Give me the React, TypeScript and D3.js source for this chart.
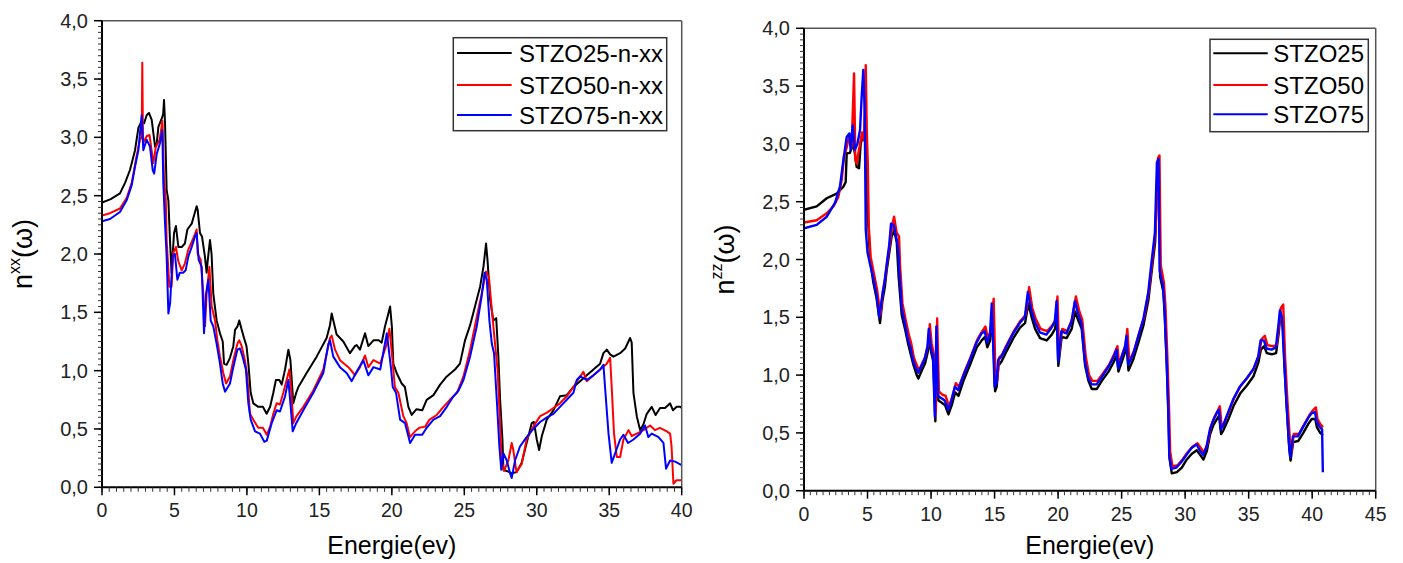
import React from "react";
import * as d3 from "d3";

type Pt = [number, number];

// ---- Left panel data (n^xx) ----
const leftBlack: Pt[] = [[0,2.44],[0.6,2.47],[1.24,2.52],[1.59,2.61],[1.93,2.72],[2.28,2.89],[2.51,3.08],[2.74,3.14],[2.9,3.12],[3.08,3.19],[3.24,3.21],[3.43,3.15],[3.54,3.04],[3.66,2.92],[3.78,2.95],[3.89,3.09],[4.12,3.16],[4.22,3.2],[4.28,3.32],[4.35,3.12],[4.46,2.55],[4.58,2.46],[4.69,2.12],[4.8,1.84],[4.97,2.18],[5.1,2.24],[5.27,2.06],[5.5,2.06],[5.72,2.09],[5.89,2.21],[6.19,2.26],[6.53,2.41],[6.6,2.38],[6.76,2.18],[6.9,2.15],[7.1,1.98],[7.22,1.84],[7.3,1.95],[7.45,2.12],[7.56,2.0],[7.68,1.66],[7.91,1.43],[8.14,1.32],[8.33,1.25],[8.42,1.06],[8.6,1.05],[8.83,1.11],[9.06,1.21],[9.18,1.35],[9.35,1.38],[9.47,1.43],[9.64,1.35],[9.8,1.28],[9.97,1.21],[10.1,1.06],[10.26,0.81],[10.44,0.72],[10.78,0.69],[11.1,0.69],[11.36,0.63],[11.6,0.69],[11.82,0.81],[12.0,0.92],[12.24,0.92],[12.4,0.88],[12.63,1.01],[12.86,1.18],[13.0,1.09],[13.2,0.72],[13.4,0.81],[13.55,0.86],[14.12,0.98],[14.81,1.12],[15.5,1.28],[15.73,1.39],[15.85,1.49],[15.96,1.43],[16.19,1.31],[16.65,1.25],[17.11,1.15],[17.45,1.21],[17.57,1.22],[17.8,1.18],[18.15,1.32],[18.38,1.21],[18.73,1.26],[19.1,1.26],[19.3,1.24],[19.53,1.38],[19.76,1.49],[19.88,1.55],[20.0,1.38],[20.1,1.06],[20.33,0.98],[20.68,0.89],[20.9,0.86],[21.14,0.69],[21.37,0.62],[21.7,0.67],[22.1,0.66],[22.4,0.75],[22.87,0.79],[23.33,0.88],[23.79,0.95],[24.36,1.01],[24.7,1.06],[25.05,1.26],[25.4,1.39],[25.86,1.61],[26.09,1.72],[26.32,1.89],[26.5,2.09],[26.6,1.95],[26.78,1.61],[27.0,1.43],[27.2,1.45],[27.35,1.12],[27.47,0.75],[27.63,0.41],[27.7,0.15],[27.93,0.14],[28.27,0.12],[28.61,0.13],[28.96,0.21],[29.3,0.38],[29.65,0.55],[29.8,0.56],[30.0,0.41],[30.16,0.32],[30.35,0.44],[30.69,0.58],[31.15,0.66],[31.6,0.78],[32.07,0.79],[32.53,0.86],[32.99,0.91],[33.45,0.96],[33.91,1.01],[34.37,1.06],[34.6,1.15],[34.83,1.18],[35.06,1.14],[35.29,1.12],[35.75,1.15],[36.1,1.19],[36.44,1.28],[36.55,1.24],[36.67,0.81],[36.9,0.61],[37.13,0.49],[37.36,0.54],[37.59,0.63],[37.93,0.69],[38.2,0.62],[38.51,0.68],[38.85,0.68],[39.2,0.72],[39.4,0.66],[39.65,0.69],[39.89,0.69],[40,0.68]];

const leftRed: Pt[] = [[0,2.33],[0.55,2.35],[1.24,2.39],[1.7,2.48],[2.05,2.61],[2.39,2.84],[2.62,2.98],[2.74,3.0],[2.78,3.64],[2.83,2.95],[3.08,3.01],[3.28,3.02],[3.42,2.89],[3.54,2.78],[3.72,2.92],[3.98,2.98],[4.17,3.14],[4.28,2.64],[4.4,2.47],[4.46,2.12],[4.65,1.72],[4.8,1.72],[4.92,2.01],[5.1,2.06],[5.26,1.94],[5.5,1.86],[5.72,1.92],[5.96,2.04],[6.25,2.12],[6.53,2.21],[6.6,2.0],[6.81,1.95],[6.99,1.66],[7.11,1.38],[7.22,1.66],[7.41,1.89],[7.57,1.55],[7.8,1.43],[7.96,1.26],[8.14,1.12],[8.37,0.98],[8.56,0.89],[8.83,0.95],[9.06,1.09],[9.34,1.23],[9.47,1.26],[9.64,1.21],[9.86,1.09],[10.03,0.95],[10.21,0.63],[10.44,0.58],[10.78,0.51],[11.1,0.51],[11.37,0.45],[11.6,0.52],[11.82,0.63],[12.05,0.72],[12.28,0.71],[12.51,0.81],[12.74,0.92],[12.93,1.01],[13.07,0.81],[13.2,0.55],[13.42,0.61],[13.89,0.69],[14.58,0.83],[15.27,1.01],[15.73,1.28],[15.85,1.3],[16.08,1.18],[16.42,1.09],[17.0,1.03],[17.34,0.98],[17.45,0.96],[17.8,1.03],[18.15,1.13],[18.38,1.03],[18.73,1.09],[19.2,1.06],[19.65,1.23],[19.83,1.36],[20.0,1.15],[20.21,0.86],[20.45,0.81],[20.79,0.61],[21.02,0.55],[21.25,0.43],[21.6,0.48],[21.9,0.51],[22.3,0.52],[22.6,0.58],[23.1,0.62],[23.56,0.69],[24.0,0.75],[24.5,0.81],[24.94,0.95],[25.4,1.18],[25.86,1.46],[26.2,1.66],[26.5,1.85],[26.7,1.8],[26.9,1.52],[27.12,1.23],[27.3,1.0],[27.42,0.66],[27.58,0.23],[27.74,0.14],[28.04,0.23],[28.27,0.38],[28.38,0.32],[28.6,0.13],[28.96,0.2],[29.3,0.41],[29.76,0.52],[30.23,0.61],[30.7,0.64],[31.15,0.68],[31.6,0.72],[32.07,0.78],[32.53,0.86],[32.88,0.93],[33.22,0.99],[33.45,0.91],[33.91,0.96],[34.37,1.01],[34.83,1.06],[35.06,1.11],[35.17,0.86],[35.33,0.46],[35.52,0.26],[35.75,0.26],[35.98,0.41],[36.33,0.49],[36.55,0.44],[36.9,0.46],[37.36,0.49],[37.82,0.53],[38.15,0.49],[38.5,0.51],[38.97,0.48],[39.2,0.46],[39.3,0.35],[39.43,0.03],[39.62,0.06],[40,0.06]];

const leftBlue: Pt[] = [[0,2.28],[0.55,2.3],[1.24,2.36],[1.7,2.46],[2.05,2.59],[2.28,2.75],[2.51,2.89],[2.74,3.19],[2.85,2.89],[3.08,2.98],[3.31,2.92],[3.5,2.72],[3.6,2.69],[3.78,2.86],[4.0,2.95],[4.16,3.06],[4.23,2.61],[4.35,2.26],[4.46,1.98],[4.58,1.49],[4.7,1.58],[4.87,1.98],[5.03,2.0],[5.2,1.78],[5.37,1.84],[5.6,1.84],[5.77,1.86],[5.96,1.98],[6.19,2.06],[6.42,2.15],[6.53,2.18],[6.67,1.95],[6.88,1.89],[7.04,1.32],[7.18,1.66],[7.34,1.78],[7.5,1.43],[7.68,1.38],[7.91,1.23],[8.14,1.06],[8.33,0.89],[8.49,0.82],[8.83,0.89],[9.06,1.03],[9.34,1.18],[9.52,1.19],[9.7,1.12],[9.93,1.01],[10.1,0.72],[10.26,0.58],[10.56,0.48],[10.9,0.46],[11.2,0.39],[11.37,0.4],[11.71,0.55],[12.05,0.66],[12.28,0.65],[12.63,0.78],[12.86,0.92],[13.0,0.72],[13.16,0.48],[13.4,0.55],[13.89,0.66],[14.58,0.81],[15.27,0.98],[15.62,1.23],[15.73,1.26],[15.96,1.12],[16.42,1.03],[16.88,0.98],[17.23,0.91],[17.57,0.99],[18.03,1.09],[18.38,0.96],[18.73,1.03],[19.2,1.01],[19.65,1.32],[19.76,1.21],[19.95,1.01],[20.06,0.86],[20.29,0.81],[20.57,0.58],[20.91,0.55],[21.26,0.38],[21.6,0.45],[22.1,0.45],[22.4,0.51],[22.87,0.58],[23.33,0.61],[23.79,0.69],[24.25,0.78],[24.6,0.83],[24.94,0.92],[25.4,1.12],[25.86,1.38],[26.2,1.64],[26.4,1.84],[26.55,1.78],[26.73,1.43],[26.9,1.23],[27.05,1.15],[27.24,0.75],[27.42,0.35],[27.55,0.15],[27.7,0.29],[27.93,0.23],[28.16,0.12],[28.27,0.08],[28.5,0.23],[28.84,0.35],[29.3,0.43],[29.76,0.5],[30.23,0.56],[30.7,0.6],[31.15,0.63],[31.6,0.69],[32.07,0.75],[32.53,0.81],[32.76,0.92],[32.99,0.95],[33.45,0.92],[33.91,0.96],[34.37,1.01],[34.6,1.05],[34.71,0.86],[34.95,0.46],[35.17,0.21],[35.4,0.29],[35.75,0.41],[35.98,0.45],[36.3,0.38],[36.67,0.41],[37.13,0.46],[37.47,0.53],[37.7,0.43],[37.93,0.46],[38.4,0.43],[38.74,0.38],[38.92,0.16],[39.2,0.23],[39.55,0.22],[40,0.19]];

// ---- Right panel data (n^zz) ----
const rightBlack: Pt[] = [[0,2.43],[1.0,2.46],[1.79,2.53],[2.57,2.57],[3.1,2.63],[3.28,2.67],[3.36,2.92],[3.6,2.92],[3.88,3.0],[4.0,2.92],[4.15,2.8],[4.33,2.79],[4.46,3.0],[4.67,3.09],[4.83,3.12],[4.94,2.51],[5.07,2.28],[5.2,2.0],[5.46,1.8],[5.72,1.66],[5.98,1.45],[6.17,1.64],[6.36,1.76],[6.5,1.9],[6.7,2.05],[6.9,2.2],[7.1,2.25],[7.3,2.15],[7.45,1.85],[7.69,1.52],[7.95,1.4],[8.2,1.27],[8.4,1.18],[8.61,1.09],[8.87,1.0],[9.0,0.97],[9.27,1.04],[9.53,1.1],[9.74,1.2],[9.84,1.32],[10.0,1.2],[10.18,1.12],[10.34,0.6],[10.45,1.3],[10.58,0.78],[10.85,0.76],[11.1,0.74],[11.37,0.66],[11.63,0.74],[11.9,0.85],[12.16,0.82],[12.55,0.95],[13.07,1.09],[13.6,1.24],[13.99,1.3],[14.25,1.33],[14.43,1.24],[14.65,1.3],[14.85,1.5],[15.04,0.86],[15.17,0.9],[15.3,1.08],[15.56,1.12],[15.96,1.21],[16.48,1.32],[17.0,1.41],[17.4,1.45],[17.66,1.62],[17.92,1.5],[18.19,1.4],[18.58,1.32],[19.1,1.3],[19.5,1.35],[19.76,1.4],[19.9,1.52],[20.02,1.08],[20.28,1.33],[20.67,1.32],[21.07,1.4],[21.34,1.55],[21.6,1.47],[21.86,1.4],[22.13,1.08],[22.39,0.95],[22.65,0.88],[23.05,0.88],[23.44,0.95],[23.97,1.03],[24.36,1.11],[24.62,1.17],[24.75,1.03],[25.0,1.11],[25.28,1.2],[25.4,1.25],[25.54,1.04],[25.93,1.14],[26.32,1.28],[26.72,1.43],[27.11,1.65],[27.37,1.9],[27.64,2.15],[27.82,2.75],[27.93,2.82],[28.03,1.85],[28.29,1.72],[28.4,1.5],[28.56,1.08],[28.69,0.66],[28.77,0.28],[28.95,0.15],[29.35,0.16],[29.74,0.2],[30.13,0.27],[30.53,0.32],[30.92,0.35],[31.18,0.31],[31.44,0.27],[31.7,0.34],[31.97,0.49],[32.23,0.57],[32.5,0.62],[32.68,0.65],[32.83,0.49],[33.0,0.52],[33.41,0.62],[33.8,0.73],[34.33,0.84],[34.86,0.91],[35.38,0.99],[35.77,1.11],[35.96,1.22],[36.22,1.25],[36.43,1.19],[36.82,1.18],[37.16,1.19],[37.35,1.35],[37.48,1.5],[37.69,1.45],[37.82,1.08],[38.0,0.72],[38.2,0.36],[38.3,0.26],[38.5,0.42],[38.9,0.43],[39.3,0.5],[39.71,0.58],[39.97,0.62],[40.24,0.62],[40.37,0.55],[40.63,0.5],[40.84,0.48]];

const rightRed: Pt[] = [[0,2.32],[1.0,2.34],[1.79,2.4],[2.31,2.46],[2.7,2.54],[2.97,2.69],[3.15,2.89],[3.36,2.97],[3.54,3.06],[3.75,2.97],[3.94,3.61],[4.04,2.86],[4.15,2.83],[4.36,2.97],[4.57,3.1],[4.72,3.03],[4.86,3.68],[4.94,3.12],[5.02,2.83],[5.1,2.28],[5.25,2.02],[5.5,1.88],[5.75,1.74],[6.02,1.52],[6.2,1.72],[6.4,1.84],[6.55,1.98],[6.75,2.12],[6.95,2.3],[7.09,2.37],[7.3,2.23],[7.48,2.2],[7.56,1.95],[7.75,1.62],[8.0,1.48],[8.25,1.35],[8.45,1.27],[8.65,1.15],[8.9,1.08],[9.05,1.04],[9.3,1.1],[9.55,1.16],[9.78,1.27],[9.9,1.44],[10.05,1.27],[10.22,1.18],[10.38,0.68],[10.48,1.49],[10.62,0.86],[10.9,0.83],[11.15,0.82],[11.4,0.73],[11.67,0.81],[11.95,0.93],[12.2,0.9],[12.6,1.02],[13.1,1.15],[13.65,1.31],[14.03,1.38],[14.28,1.42],[14.47,1.32],[14.7,1.38],[14.93,1.66],[15.08,0.92],[15.22,0.96],[15.35,1.15],[15.6,1.18],[16.0,1.27],[16.52,1.38],[17.04,1.47],[17.45,1.52],[17.72,1.76],[17.97,1.58],[18.23,1.49],[18.62,1.4],[19.14,1.38],[19.55,1.43],[19.8,1.48],[19.95,1.68],[20.08,1.18],[20.33,1.4],[20.72,1.38],[21.12,1.49],[21.4,1.68],[21.65,1.56],[21.9,1.48],[22.18,1.16],[22.44,1.0],[22.7,0.95],[23.1,0.95],[23.5,1.01],[24.02,1.09],[24.41,1.18],[24.67,1.25],[24.8,1.09],[25.05,1.18],[25.33,1.27],[25.45,1.4],[25.6,1.12],[25.98,1.21],[26.37,1.36],[26.77,1.5],[27.16,1.74],[27.42,2.0],[27.68,2.25],[27.87,2.88],[27.98,2.9],[28.08,1.95],[28.33,1.8],[28.45,1.6],[28.6,1.16],[28.73,0.73],[28.82,0.34],[29.0,0.21],[29.4,0.22],[29.79,0.27],[30.18,0.33],[30.58,0.38],[30.97,0.41],[31.23,0.37],[31.49,0.33],[31.75,0.4],[32.02,0.55],[32.28,0.63],[32.55,0.69],[32.73,0.73],[32.88,0.55],[33.05,0.58],[33.46,0.69],[33.85,0.8],[34.38,0.91],[34.91,0.98],[35.43,1.06],[35.82,1.18],[36.01,1.31],[36.27,1.34],[36.48,1.26],[36.87,1.25],[37.21,1.26],[37.4,1.44],[37.53,1.58],[37.72,1.61],[37.87,1.15],[38.05,0.78],[38.25,0.43],[38.35,0.32],[38.55,0.49],[38.95,0.49],[39.35,0.57],[39.76,0.65],[40.02,0.69],[40.29,0.72],[40.42,0.62],[40.68,0.57],[40.86,0.55]];

const rightBlue: Pt[] = [[0,2.27],[1.0,2.3],[1.79,2.37],[2.44,2.49],[2.83,2.63],[3.1,2.86],[3.36,3.06],[3.57,3.09],[3.67,2.95],[3.83,3.16],[4.0,2.95],[4.2,3.0],[4.41,3.12],[4.54,3.41],[4.67,3.64],[4.78,3.29],[4.86,2.26],[5.0,2.06],[5.2,1.96],[5.45,1.84],[5.7,1.7],[5.92,1.5],[6.15,1.68],[6.33,1.8],[6.5,1.95],[6.7,2.12],[6.85,2.31],[7.05,2.3],[7.25,2.2],[7.4,2.1],[7.5,1.9],[7.7,1.57],[7.95,1.44],[8.2,1.3],[8.4,1.23],[8.6,1.12],[8.85,1.05],[9.0,1.02],[9.25,1.08],[9.5,1.14],[9.72,1.25],[9.82,1.4],[9.98,1.24],[10.15,1.16],[10.3,0.64],[10.42,1.42],[10.55,0.82],[10.82,0.8],[11.08,0.78],[11.35,0.7],[11.6,0.78],[11.88,0.9],[12.14,0.87],[12.53,0.99],[13.05,1.13],[13.58,1.28],[13.97,1.36],[14.23,1.38],[14.41,1.28],[14.63,1.35],[14.78,1.62],[15.0,0.9],[15.15,0.93],[15.28,1.13],[15.54,1.16],[15.94,1.25],[16.46,1.36],[16.98,1.45],[17.38,1.5],[17.62,1.72],[17.9,1.56],[18.17,1.46],[18.56,1.37],[19.08,1.35],[19.48,1.41],[19.74,1.46],[19.88,1.64],[20.0,1.12],[20.26,1.38],[20.65,1.36],[21.05,1.46],[21.32,1.64],[21.58,1.53],[21.84,1.45],[22.11,1.12],[22.37,0.98],[22.63,0.92],[23.03,0.92],[23.42,0.98],[23.95,1.07],[24.34,1.15],[24.6,1.22],[24.73,1.06],[24.98,1.15],[25.26,1.24],[25.38,1.34],[25.52,1.09],[25.91,1.18],[26.3,1.33],[26.7,1.48],[27.09,1.71],[27.35,1.97],[27.62,2.23],[27.78,2.84],[27.9,2.87],[28.0,1.9],[28.26,1.77],[28.38,1.57],[28.54,1.13],[28.67,0.7],[28.75,0.31],[28.92,0.19],[29.32,0.2],[29.72,0.25],[30.11,0.31],[30.5,0.37],[30.9,0.4],[31.15,0.35],[31.42,0.31],[31.68,0.38],[31.95,0.53],[32.21,0.61],[32.48,0.67],[32.66,0.7],[32.8,0.53],[32.98,0.56],[33.39,0.68],[33.78,0.79],[34.31,0.9],[34.84,0.97],[35.36,1.05],[35.75,1.16],[35.94,1.3],[36.2,1.3],[36.41,1.23],[36.8,1.22],[37.14,1.24],[37.33,1.42],[37.46,1.56],[37.62,1.5],[37.8,1.12],[37.98,0.75],[38.18,0.4],[38.28,0.29],[38.48,0.47],[38.88,0.47],[39.28,0.55],[39.69,0.63],[39.95,0.67],[40.22,0.68],[40.35,0.6],[40.6,0.55],[40.78,0.53],[40.84,0.16]];

const leftLegend = ["STZO25-n-xx", "STZO50-n-xx", "STZO75-n-xx"];
const rightLegend = ["STZO25", "STZO50", "STZO75"];
const colors = ["#000000", "#ff0000", "#0000ff"];
const leftXTicks = [0, 5, 10, 15, 20, 25, 30, 35, 40];
const rightXTicks = [0, 5, 10, 15, 20, 25, 30, 35, 40, 45];
const yTicks = [0, 0.5, 1, 1.5, 2, 2.5, 3, 3.5, 4];

const FONT = "Arial, 'Liberation Sans', sans-serif";
const fmt = (v: number) => d3.format(".1f")(v).replace(".", ",");

interface PanelProps {
  left: number; right: number; top: number; bottom: number;
  xMax: number; xTicks: number[];
  series: Pt[][]; legend: string[];
  legendBox: { x: number; y: number; w: number; h: number; lineX0: number; lineX1: number; textX: number; rows: number[] };
  sup: string; titleX: number; lineW: number;
}

function Panel(p: PanelProps) {
  const x = d3.scaleLinear().domain([0, p.xMax]).range([p.left, p.right]);
  const y = d3.scaleLinear().domain([0, 4]).range([p.bottom, p.top]);
  const line = d3.line<Pt>().x(d => x(d[0])).y(d => y(d[1]));
  const xMinor = d3.range(0, p.xMax + 0.001, 0.5);
  const yMinor = d3.range(0, 4.001, 0.05);
  const cy = (p.top + p.bottom) / 2;
  const cx = (p.left + p.right) / 2;
  return (
    <g>
      <defs>
        <clipPath id={"clip" + p.left}>
          <rect x={p.left} y={p.top - 2} width={p.right - p.left} height={p.bottom - p.top + 4} />
        </clipPath>
      </defs>
      <g clipPath={`url(#clip${p.left})`}>
        {p.series.map((s, i) => (
          <path key={i} d={line(s) || ""} fill="none" stroke={colors[i]} strokeWidth={p.lineW} strokeLinejoin="round" />
        ))}
      </g>
      <line x1={p.left} x2={p.right} y1={p.top} y2={p.top} stroke="#555" strokeWidth={1.5} />
      <line x1={p.right} x2={p.right} y1={p.top} y2={p.bottom} stroke="#555" strokeWidth={1.5} />
      <line x1={p.left} x2={p.left} y1={p.top} y2={p.bottom} stroke="#000" strokeWidth={2} />
      {yMinor.map((v, i) => (
        <line key={"ym" + i} x1={p.left - 4} x2={p.left} y1={y(v)} y2={y(v)} stroke="#333" strokeWidth={1} />
      ))}
      {yTicks.map((v, i) => (
        <g key={"yt" + i}>
          <line x1={p.left - 8} x2={p.left} y1={y(v)} y2={y(v)} stroke="#000" strokeWidth={1.5} />
          <text x={p.left - 14} y={y(v) + 7} textAnchor="end" fontSize={20} fontFamily={FONT} fill="#222">{fmt(v)}</text>
        </g>
      ))}
      <line x1={p.left} x2={p.right} y1={p.bottom} y2={p.bottom} stroke="#000" strokeWidth={2} />
      {xMinor.map((v, i) => (
        <line key={"xm" + i} x1={x(v)} x2={x(v)} y1={p.bottom} y2={p.bottom + 4.5} stroke="#333" strokeWidth={1} />
      ))}
      {p.xTicks.map((v, i) => (
        <g key={"xt" + i}>
          <line x1={x(v)} x2={x(v)} y1={p.bottom} y2={p.bottom + 8} stroke="#000" strokeWidth={1.5} />
          <text x={x(v)} y={p.bottom + 30} textAnchor="middle" fontSize={19.5} fontFamily={FONT} fill="#222">{v}</text>
        </g>
      ))}
      <text x={cx} y={554} textAnchor="middle" fontSize={25} fontFamily={FONT} fill="#000">Energie(ev)</text>
      <text transform={`translate(${p.titleX},${cy}) rotate(-90)`} textAnchor="middle" fontSize={27} fontFamily={FONT} fill="#000">
        <tspan>n</tspan>
        <tspan fontSize={16} dy={-12}>{p.sup}</tspan>
        <tspan dy={12}>(ω)</tspan>
      </text>
      <rect x={p.legendBox.x} y={p.legendBox.y} width={p.legendBox.w} height={p.legendBox.h} fill="#fff" stroke="#333" strokeWidth={1.5} />
      {p.legend.map((t, i) => (
        <g key={"lg" + i}>
          <line x1={p.legendBox.lineX0} x2={p.legendBox.lineX1} y1={p.legendBox.rows[i]} y2={p.legendBox.rows[i]} stroke={colors[i]} strokeWidth={2} />
          <text x={p.legendBox.textX} y={p.legendBox.rows[i] + 9} fontSize={24} fontFamily={FONT} fill="#000">{t}</text>
        </g>
      ))}
    </g>
  );
}

export default function App() {
  return (
    <svg width={1403} height={563} style={{ position: "absolute", left: 0, top: 0, background: "#fff" }}>
      <rect width={1403} height={563} fill="#fff" />
      <Panel left={102} right={681.7} top={20.7} bottom={487.3} xMax={40} xTicks={leftXTicks}
        series={[leftBlack, leftRed, leftBlue]} legend={leftLegend}
        legendBox={{ x: 453.3, y: 37.7, w: 213.4, h: 93, lineX0: 457, lineX1: 511.7, textX: 519, rows: [53, 85, 115] }}
        sup="xx" titleX={32} lineW={2} />
      <Panel left={804} right={1375.7} top={28.3} bottom={490.7} xMax={45} xTicks={rightXTicks}
        series={[rightBlack, rightRed, rightBlue]} legend={rightLegend}
        legendBox={{ x: 1210, y: 39.3, w: 158.3, h: 92.4, lineX0: 1213.3, lineX1: 1267.7, textX: 1273.3, rows: [53.3, 85, 114.3] }}
        sup="zz" titleX={734} lineW={2.4} />
    </svg>
  );
}
